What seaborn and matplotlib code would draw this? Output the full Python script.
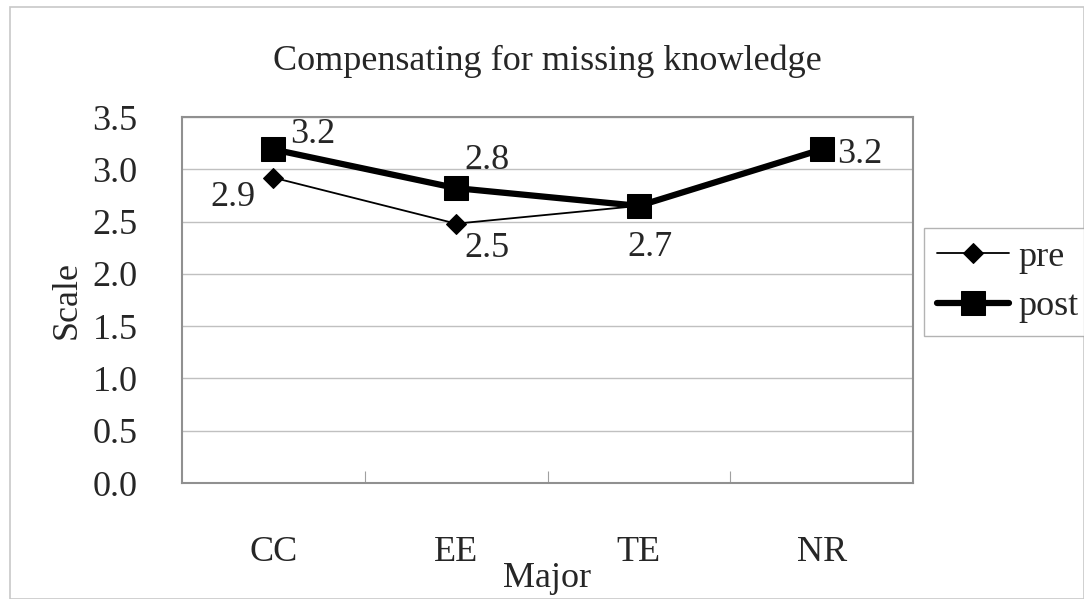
import pandas as pd
import numpy as np
import seaborn as sns
import matplotlib.pyplot as plt
from matplotlib.patches import Rectangle

# Datos
majors = ['CC', 'EE', 'TE', 'NR']
pre = [2.92, 2.48, 2.65, 3.19]
post = [3.19, 2.82, 2.65, 3.19]
y_ticks = [0.0, 0.5, 1.0, 1.5, 2.0, 2.5, 3.0, 3.5]

sns.set_theme(style='white')
plt.rcParams['font.family'] = ['Liberation Serif', 'DejaVu Serif']

df = pd.DataFrame({'Major': majors * 2,
                   'Scale': pre + post,
                   'serie': ['pre'] * 4 + ['post'] * 4})

fig = plt.figure(figsize=(10.84, 5.99), dpi=100)
ax = fig.add_axes([182 / 1084, 1 - 483 / 599, 731 / 1084, 366 / 599])

# borda externa
fig.patches.append(Rectangle((10 / 1084, 0), 1 - 10 / 1084, 1 - 7 / 599,
                             transform=fig.transFigure, fill=False,
                             edgecolor='#c8c8c8', lw=1.2))

sns.lineplot(data=df[df.serie == 'pre'], x='Major', y='Scale', color='black',
             lw=1.3, marker='D', markersize=10, markeredgecolor='black',
             ax=ax, label='pre', zorder=3)
sns.lineplot(data=df[df.serie == 'post'], x='Major', y='Scale', color='black',
             lw=4.5, marker='s', markersize=17, markeredgecolor='black',
             ax=ax, label='post', zorder=4)

ax.set_xlim(-0.5, 3.5)
ax.set_ylim(0, 3.5)
ax.set_yticks(y_ticks)
ax.set_yticklabels([f'{v:.1f}' for v in y_ticks], fontsize=26)
ax.set_xticks(range(4))
ax.set_xticklabels(majors, fontsize=26)
ax.tick_params(axis='x', which='major', length=0, pad=38, bottom=True)
ax.tick_params(axis='y', length=0, pad=32)
ax.set_xticks([0.5, 1.5, 2.5], minor=True)
ax.tick_params(axis='x', which='minor', direction='in', length=9, bottom=True,
               color='#a0a0a0', width=0.8)

ax.grid(axis='y', color='#c0c0c0', lw=1)
ax.grid(axis='x', visible=False)
for s in ax.spines.values():
    s.set_color('#909090')
    s.set_linewidth(1.5)

ax.set_title('Compensating for missing knowledge', fontsize=26, pad=34)
ax.set_xlabel('Major', fontsize=26, labelpad=-5)
ax.set_ylabel('Scale', fontsize=26, labelpad=6)

# rótulos
ax.annotate('3.2', (0, post[0]), xytext=(12, 11), textcoords='offset points', fontsize=26, va='center')
ax.annotate('2.9', (0, pre[0]), xytext=(-45, -14), textcoords='offset points', fontsize=26, va='center')
ax.annotate('2.8', (1, post[1]), xytext=(6, 20), textcoords='offset points', fontsize=26, va='center')
ax.annotate('2.5', (1, pre[1]), xytext=(6, -18), textcoords='offset points', fontsize=26, va='center')
ax.annotate('2.7', (2, post[2]), xytext=(-8, -30), textcoords='offset points', fontsize=26, va='center')
ax.annotate('3.2', (3, post[3]), xytext=(11, -4), textcoords='offset points', fontsize=26, va='center')

ax.get_legend().remove()
h, l = ax.get_legend_handles_labels()
leg = fig.legend(h, l, loc='upper left', bbox_to_anchor=(924 / 1084, 1 - 228 / 599),
                 fontsize=26, frameon=True, fancybox=False, edgecolor='#a0a0a0',
                 handlelength=2.0, handletextpad=0.25, borderpad=0.35, labelspacing=0.45,
                 borderaxespad=0)
leg.get_frame().set_linewidth(1)

fig.savefig('out.png', dpi=100)
